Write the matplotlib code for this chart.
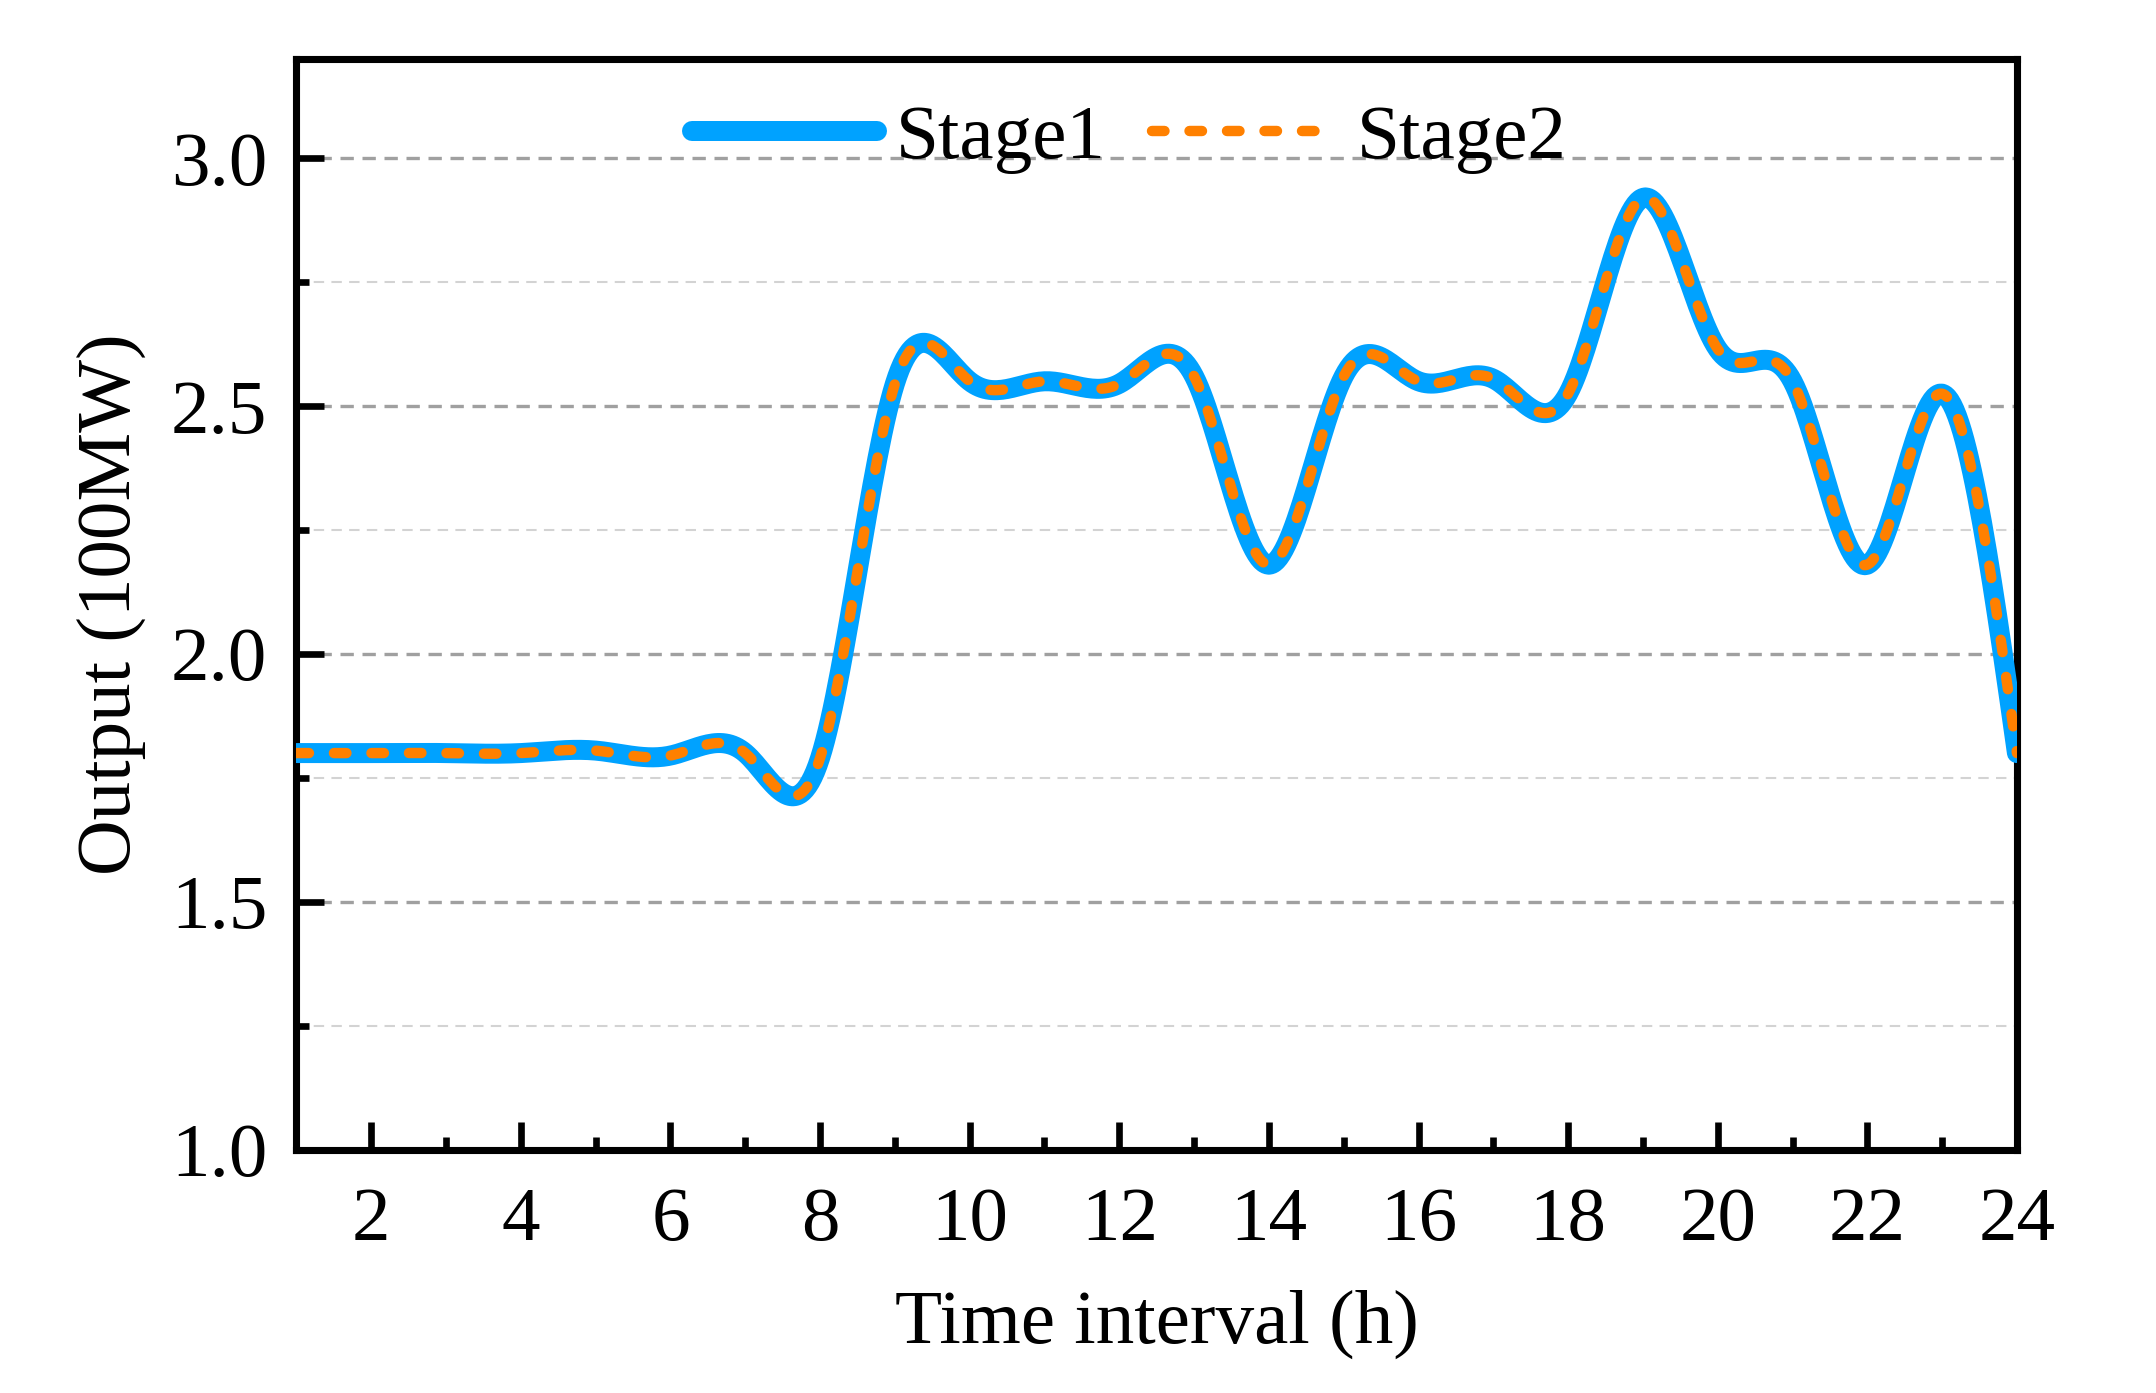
"""Stage1 / Stage2 hourly output curves."""

import matplotlib
matplotlib.use("Agg")
import matplotlib.pyplot as plt
import numpy as np
from matplotlib.ticker import MultipleLocator

HOURS = list(range(1, 25))
STAGE1 = [1.80, 1.80, 1.80, 1.80, 1.805, 1.795, 1.80, 1.79, 2.545, 2.55, 2.55, 2.545,
          2.56, 2.18, 2.56, 2.55, 2.555, 2.525, 2.92, 2.615, 2.55, 2.18, 2.525, 1.80]
STAGE2 = [1.80, 1.80, 1.80, 1.80, 1.805, 1.795, 1.80, 1.79, 2.545, 2.55, 2.55, 2.545,
          2.56, 2.18, 2.56, 2.55, 2.555, 2.525, 2.92, 2.615, 2.55, 2.18, 2.525, 1.80]
LABELS = ["Stage1", "Stage2"]

BLUE = "#00a2ff"
ORANGE = "#ff8000"


def _spline(x, y, n=30):
    # natural cubic spline, only used to draw the smooth connecting line
    x = np.asarray(x, float)
    y = np.asarray(y, float)
    k = len(x)
    h = np.diff(x)
    a = np.zeros((k, k))
    b = np.zeros(k)
    a[0, 0] = a[-1, -1] = 1.0
    for i in range(1, k - 1):
        a[i, i - 1] = h[i - 1]
        a[i, i] = 2 * (h[i - 1] + h[i])
        a[i, i + 1] = h[i]
        b[i] = 3 * ((y[i + 1] - y[i]) / h[i] - (y[i] - y[i - 1]) / h[i - 1])
    c = np.linalg.solve(a, b)
    xs, ys = [], []
    for i in range(k - 1):
        t = np.linspace(0, h[i], n, endpoint=False)
        bi = (y[i + 1] - y[i]) / h[i] - h[i] * (2 * c[i] + c[i + 1]) / 3
        di = (c[i + 1] - c[i]) / (3 * h[i])
        xs.append(x[i] + t)
        ys.append(y[i] + bi * t + c[i] * t ** 2 + di * t ** 3)
    xs.append([x[-1]])
    ys.append([y[-1]])
    return np.concatenate(xs), np.concatenate(ys)


plt.rcParams["font.family"] = ["Liberation Serif", "DejaVu Serif"]
plt.rcParams["font.size"] = 18.5

fig = plt.figure(figsize=(2156 / 300, 1393 / 300), dpi=300)
ax = fig.add_axes([0.1375, 0.1747, 0.798, 0.7829])

ax.yaxis.set_minor_locator(MultipleLocator(0.25))
ax.grid(axis="y", which="major", color="#a0a0a0", linestyle=(0, (4, 2.6)), linewidth=0.8)
ax.grid(axis="y", which="minor", color="#d3d3d3", linestyle=(0, (5, 3.5)), linewidth=0.5)
ax.set_axisbelow(True)

x1, y1 = _spline(HOURS, STAGE1)
x2, y2 = _spline(HOURS, STAGE2)
ax.plot(x1, y1, color=BLUE, linewidth=4.8, solid_capstyle="round",
        solid_joinstyle="round", label=LABELS[0], zorder=3)
ax.plot(x2, y2, color=ORANGE, linewidth=2.5, dashes=(1.2, 2.4),
        dash_capstyle="round", label=LABELS[1], zorder=4)

ax.set_xlim(1, 24)
ax.set_ylim(1.0, 3.2)
ax.xaxis.set_major_locator(MultipleLocator(2))
ax.xaxis.set_minor_locator(MultipleLocator(1))
ax.set_yticks([1.0, 1.5, 2.0, 2.5, 3.0])
ax.set_yticklabels(["1.0", "1.5", "2.0", "2.5", "3.0"])

ax.tick_params(which="both", direction="in", top=False, right=False, width=1.6)
ax.tick_params(which="major", length=6.7)
ax.tick_params(axis="x", which="major", pad=9)
ax.tick_params(axis="y", which="major", pad=7)
ax.tick_params(which="minor", length=3.2)
for spine in ax.spines.values():
    spine.set_linewidth(1.7)

ax.set_xlabel("Time interval (h)", labelpad=8)
ax.set_ylabel("Output (100MW)", labelpad=6)

ax.legend(loc="center", bbox_to_anchor=(0.484, 0.927), ncol=2, frameon=False,
          handlelength=2.4, handletextpad=0.25, columnspacing=0.6,
          borderaxespad=0)

fig.savefig("out.png", dpi=300)
